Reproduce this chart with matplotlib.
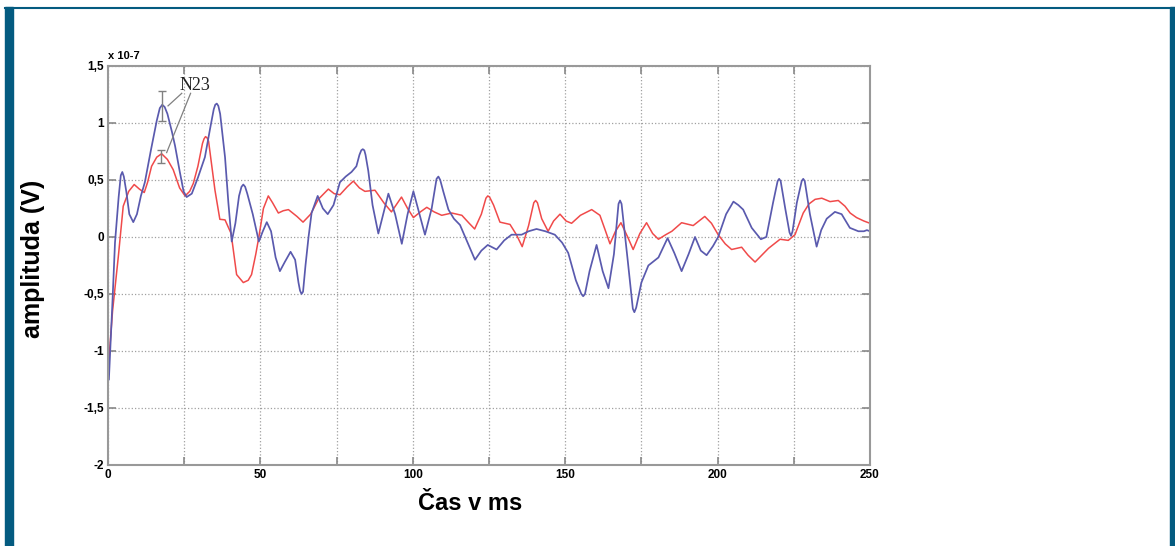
import matplotlib.pyplot as plt
from matplotlib.patches import Rectangle
from matplotlib.lines import Line2D

# cas (ms) a amplituda (x 1e-7 V) - modra krivka
t_modra = [0.3, 1.5, 2.3, 3.5, 4.2, 4.7, 5.2, 6.0, 7.0, 8.3, 9.5, 10.8, 12.1, 14.0, 16.0, 17.0, 17.8,
           18.6, 19.5, 21.0, 22.0, 23.5, 24.8, 25.8, 27.5, 29.5, 31.8, 33.5, 34.7, 35.2, 35.7, 36.2,
           36.8, 38.4, 39.5, 40.6, 41.8, 43.0, 43.8, 44.4, 45.0, 45.7, 47.5, 49.5, 50.8, 52.1, 53.5,
           55.0, 56.4, 58.0, 59.9, 61.4, 62.5, 63.0, 63.5, 64.0, 64.8, 65.8, 66.8, 68.8, 70.5, 72.1,
           74.0, 76.1, 78.0, 79.9, 81.5, 82.5, 83.1, 83.6, 84.1, 84.5, 85.4, 86.8, 88.7, 90.3, 92.0,
           94.2, 96.4, 98.3, 100.2, 102.0, 104.0, 106.2, 107.8, 108.4, 109.0, 110.0, 111.7, 113.5,
           115.5, 118.0, 120.4, 122.5, 124.6, 127.5, 130.0, 132.4, 135.7, 138.0, 140.6, 143.5,
           146.6, 149.0, 151.0, 153.5, 155.3, 155.9, 156.5, 158.0, 160.3, 162.3, 164.2, 166.0,
           167.5, 168.0, 168.5, 170.5, 172.2, 172.7, 173.3, 175.0, 177.3, 180.6, 183.6, 185.8,
           188.2, 190.5, 192.6, 194.5, 196.4, 198.5, 200.2, 202.8, 205.2, 206.8, 208.4, 211.2,
           214.2, 216.0, 218.2, 219.7, 220.2, 220.7, 222.2, 223.6, 224.1, 224.6, 226.0, 227.6,
           228.1, 228.6, 230.3, 232.5, 234.0, 235.8, 238.5, 240.7, 243.4, 246.2, 248.0, 249.0, 250.0]
a_modra = [-1.25, -0.55, -0.05, 0.35, 0.54, 0.57, 0.53, 0.40, 0.20, 0.13, 0.20, 0.36, 0.48, 0.75, 1.02, 1.13, 1.16,
           1.14, 1.08, 0.92, 0.80, 0.58, 0.40, 0.35, 0.38, 0.52, 0.70, 0.95, 1.12, 1.16, 1.17, 1.15,
           1.08, 0.70, 0.30, -0.04, 0.12, 0.36, 0.44, 0.46, 0.44, 0.38, 0.20, -0.04, 0.05, 0.13, 0.05,
           -0.18, -0.30, -0.22, -0.13, -0.20, -0.40, -0.47, -0.50, -0.48, -0.25, 0.0, 0.21, 0.36, 0.25, 0.20,
           0.28, 0.48, 0.53, 0.57, 0.62, 0.72, 0.76, 0.77, 0.76, 0.72, 0.58, 0.28, 0.03, 0.20, 0.38,
           0.20, -0.06, 0.20, 0.40, 0.22, 0.02, 0.25, 0.51, 0.53, 0.50, 0.40, 0.24, 0.16,
           0.105, -0.05, -0.20, -0.12, -0.07, -0.11, -0.03, 0.02, 0.02, 0.05, 0.07, 0.05,
           0.02, -0.05, -0.14, -0.38, -0.50, -0.52, -0.50, -0.30, -0.07, -0.30, -0.45, -0.15,
           0.29, 0.32, 0.29, -0.20, -0.63, -0.66, -0.62, -0.40, -0.25, -0.18, -0.01, -0.14,
           -0.30, -0.15, 0.0, -0.12, -0.16, -0.08, 0.0, 0.20, 0.31, 0.28, 0.24, 0.08,
           -0.02, 0.0, 0.30, 0.49, 0.51, 0.49, 0.25, 0.04, 0.01, 0.05, 0.30, 0.49,
           0.51, 0.49, 0.20, -0.085, 0.06, 0.16, 0.22, 0.20, 0.08, 0.05, 0.05, 0.06, 0.05]

# cervena krivka
t_cervena = [0.3, 1.5, 3.4, 5.0, 6.8, 8.6, 10.3, 11.9, 13.0, 14.3, 16.0, 17.6, 19.5, 21.4, 23.5,
             25.3, 26.8, 28.0, 29.5, 31.0, 31.5, 32.0, 32.5, 33.0, 35.1, 36.7, 38.4, 40.4, 41.3,
             42.2, 44.4, 46.0, 47.1, 48.5, 49.5, 51.0, 52.6, 54.0, 55.9, 57.5, 59.2, 62.0, 64.0,
             66.5, 69.0, 72.3, 74.2, 76.1, 78.5, 80.5, 82.5, 84.3, 87.6, 90.5, 93.0, 96.3, 98.3,
             100.2, 102.5, 104.6, 107.0, 109.5, 112.8, 116.1, 118.5, 120.3, 122.5, 124.0, 124.6,
             125.2, 126.5, 128.6, 131.9, 134.0, 135.9, 138.0, 139.7, 140.3, 140.9, 142.3, 144.4,
             146.2, 148.3, 150.3, 152.1, 155.0, 158.7, 161.4, 163.0, 164.7, 166.5, 168.3, 170.5,
             172.3, 174.5, 176.7, 178.7, 180.6, 183.0, 185.0, 188.2, 192.0, 195.8, 198.0, 200.2,
             202.5, 204.6, 207.9, 210.0, 212.3, 214.5, 216.7, 220.5, 223.2, 225.4, 228.1, 230.0,
             232.0, 234.2, 236.9, 239.6, 241.8, 243.5, 245.6, 248.0, 250.0]
a_cervena = [-1.08, -0.65, -0.17, 0.27, 0.40, 0.46, 0.42, 0.39, 0.48, 0.62, 0.70, 0.73, 0.68, 0.59, 0.43,
             0.36, 0.40, 0.47, 0.62, 0.82, 0.86, 0.88, 0.87, 0.84, 0.41, 0.155, 0.15, 0.03, -0.15,
             -0.33, -0.40, -0.38, -0.33, -0.15, 0.0, 0.25, 0.36, 0.30, 0.21, 0.23, 0.24, 0.18, 0.13,
             0.20, 0.33, 0.42, 0.38, 0.37, 0.44, 0.49, 0.43, 0.40, 0.41, 0.30, 0.22, 0.35, 0.25,
             0.17, 0.22, 0.26, 0.22, 0.19, 0.21, 0.19, 0.12, 0.07, 0.20, 0.34, 0.36,
             0.35, 0.28, 0.13, 0.11, 0.02, -0.085, 0.10, 0.30, 0.32, 0.30, 0.16, 0.05,
             0.14, 0.20, 0.14, 0.12, 0.19, 0.24, 0.19, 0.07, -0.06, 0.05, 0.125, 0.0,
             -0.11, 0.03, 0.125, 0.03, -0.02, 0.02, 0.05, 0.125, 0.10, 0.18, 0.12, 0.02,
             -0.06, -0.11, -0.09, -0.16, -0.22, -0.16, -0.10, -0.02, -0.03, 0.02, 0.21, 0.29,
             0.33, 0.34, 0.31, 0.32, 0.27, 0.21, 0.17, 0.14, 0.12]

# chybove useky u vrcholu N23
err_t = [17.8, 17.3]
err_y = [1.15, 0.71]
err_lo = [0.13, 0.06]
err_hi = [0.13, 0.05]

xticks = [0, 25, 50, 75, 100, 125, 150, 175, 200, 225, 250]
xlabels = ['0', '', '50', '', '100', '', '150', '', '200', '', '250']
yticks = [-2, -1.5, -1, -0.5, 0, 0.5, 1, 1.5]
ylabels = ['-2', '-1,5', '-1', '-0,5', '0', '0,5', '1', '1,5']

plt.rcParams['font.family'] = ['Liberation Sans', 'DejaVu Sans']

fig = plt.figure(figsize=(11.75, 5.46), dpi=100)
ax = fig.add_axes([0.0919, 0.1484, 0.6485, 0.7308])

ax.plot(t_cervena, a_cervena, color='#f04a4a', lw=1.1)
ax.plot(t_modra, a_modra, color='#5a5aae', lw=1.25)
ax.errorbar(err_t, err_y, yerr=[err_lo, err_hi], fmt='none', ecolor='#808080',
            elinewidth=1.0, capsize=3)

ax.text(28.5, 1.33, 'N23', family='Liberation Serif', fontsize=13,
        ha='center', va='center', color='#222222')
ax.plot([24.2, 19.7], [1.26, 1.15], color='#808080', lw=0.9)
ax.plot([27.1, 19.25], [1.26, 0.74], color='#808080', lw=0.9)

ax.set_xlim(0, 250)
ax.set_ylim(-2, 1.5)
ax.set_xticks(xticks)
ax.set_xticklabels(xlabels, fontsize=8.5, fontweight='bold')
ax.set_yticks(yticks)
ax.set_yticklabels(ylabels, fontsize=8.5, fontweight='bold')
ax.tick_params(direction='in', length=6, width=1.2, color='#888888',
               top=True, right=True, pad=3)
ax.grid(True, linestyle=':', color='#a0a0a0', lw=0.9)
for s in ax.spines.values():
    s.set_color('#999999')
    s.set_linewidth(1.5)

fig.text(0.092, 0.888, 'x 10-7', fontsize=8, fontweight='bold', ha='left', va='bottom')
fig.text(0.028, 0.526, 'amplituda (V)', fontsize=18, fontweight='bold',
         rotation=90, ha='center', va='center')
fig.text(0.40, 0.078, 'Čas v ms', fontsize=17, fontweight='bold',
         ha='center', va='center')

# ramecek
teal = '#045b80'
fig.patches.append(Rectangle((5 / 1175, 0), 8 / 1175, 1 - 7 / 546,
                             transform=fig.transFigure, color=teal))
fig.patches.append(Rectangle((1170 / 1175, 0), 5 / 1175, 1 - 7 / 546,
                             transform=fig.transFigure, color=teal))
fig.lines.append(Line2D([5 / 1175, 1], [1 - 7.5 / 546, 1 - 7.5 / 546],
                        transform=fig.transFigure, color=teal, lw=1.5))

fig.savefig('out.png', dpi=100)
